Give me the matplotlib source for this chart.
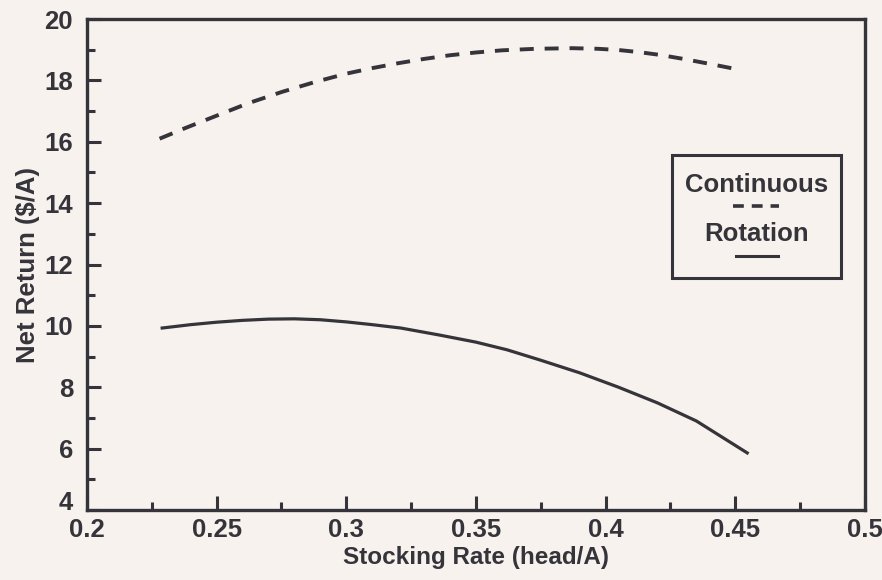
import numpy as np
import matplotlib
matplotlib.use("Agg")
import matplotlib.pyplot as plt
from matplotlib.patches import Rectangle

plt.rcParams['font.family'] = ['Liberation Sans', 'DejaVu Sans']

# values
cont_x = [0.228, 0.238, 0.25, 0.262, 0.275, 0.288, 0.30, 0.31, 0.32, 0.33, 0.34, 0.35,
          0.36, 0.373, 0.387, 0.397, 0.405, 0.413, 0.421, 0.43, 0.44, 0.452]
cont_y = [16.1, 16.45, 16.85, 17.25, 17.62, 17.95, 18.22, 18.4, 18.56, 18.7, 18.82, 18.91,
          18.98, 19.03, 19.05, 19.03, 18.99, 18.92, 18.83, 18.7, 18.54, 18.34]
rot_x = [0.229, 0.24, 0.25, 0.26, 0.27, 0.28, 0.29, 0.30, 0.31, 0.321, 0.336, 0.35,
         0.362, 0.375, 0.39, 0.405, 0.42, 0.435, 0.4546]
rot_y = [9.93, 10.04, 10.12, 10.18, 10.22, 10.23, 10.2, 10.13, 10.04, 9.93, 9.7, 9.47,
         9.22, 8.88, 8.47, 8.0, 7.49, 6.9, 5.86]
labels = ['Continuous', 'Rotation']
styles = ['--', '-']

bg = '#f8f2ee'
ink = '#34343a'

fig = plt.figure(figsize=(8.82, 5.8), dpi=100, facecolor=bg)
ax = fig.add_axes([0.0986, 0.1207, 0.8821, 0.8465], facecolor=bg)

ax.plot(cont_x, cont_y, ls='--', color=ink, lw=2.8, dashes=(3.6, 2.8))
ax.plot(rot_x, rot_y, ls='-', color=ink, lw=2.3)

ax.set_xlim(0.2, 0.5)
ax.set_ylim(4, 20)
ax.set_xticks(np.arange(0.2, 0.51, 0.05))
ax.set_xticklabels(['0.2', '0.25', '0.3', '0.35', '0.4', '0.45', '0.5'])
ax.set_xticks(np.arange(0.225, 0.5, 0.05), minor=True)
ax.set_yticks(range(4, 21, 2))
ax.set_yticks(range(5, 20, 2), minor=True)

for s in ax.spines.values():
    s.set_linewidth(2.4)
    s.set_color(ink)
ax.tick_params(which='major', direction='in', length=10, width=2.2, color=ink,
               labelsize=18.5, labelcolor=ink)
ax.tick_params(which='minor', direction='in', length=6, width=2.2, color=ink)
ax.tick_params(axis='x', pad=6)
ax.tick_params(axis='y', pad=10)
for t in ax.get_xticklabels() + ax.get_yticklabels():
    t.set_fontweight('bold')
# the bottom "4" sits on its tick so it clears "0.2"
ax.get_yticklabels()[0].set_va('baseline')

ax.set_xlabel('Stocking Rate (head/A)', fontsize=17.5, fontweight='bold',
              color=ink, labelpad=3)
ax.set_ylabel('Net Return ($/A)', fontsize=18.5, fontweight='bold',
              color=ink, labelpad=3)

# legend box drawn by hand (labels above line samples)
ax.add_patch(Rectangle((0.752, 0.473), 0.217, 0.251, transform=ax.transAxes,
                       fill=False, lw=2.2, edgecolor=ink))
ax.text(0.861, 0.662, labels[0], transform=ax.transAxes, ha='center', va='center',
        fontsize=18.5, fontweight='bold', color=ink)
ax.plot([0.831, 0.89], [0.62, 0.62], transform=ax.transAxes, ls=styles[0],
        color=ink, lw=2.6, dashes=(3.0, 2.2))
ax.text(0.861, 0.562, labels[1], transform=ax.transAxes, ha='center', va='center',
        fontsize=18.5, fontweight='bold', color=ink)
ax.plot([0.834, 0.888], [0.517, 0.517], transform=ax.transAxes, ls=styles[1],
        color=ink, lw=2.2)

fig.savefig('out.png', dpi=100, facecolor=bg)
